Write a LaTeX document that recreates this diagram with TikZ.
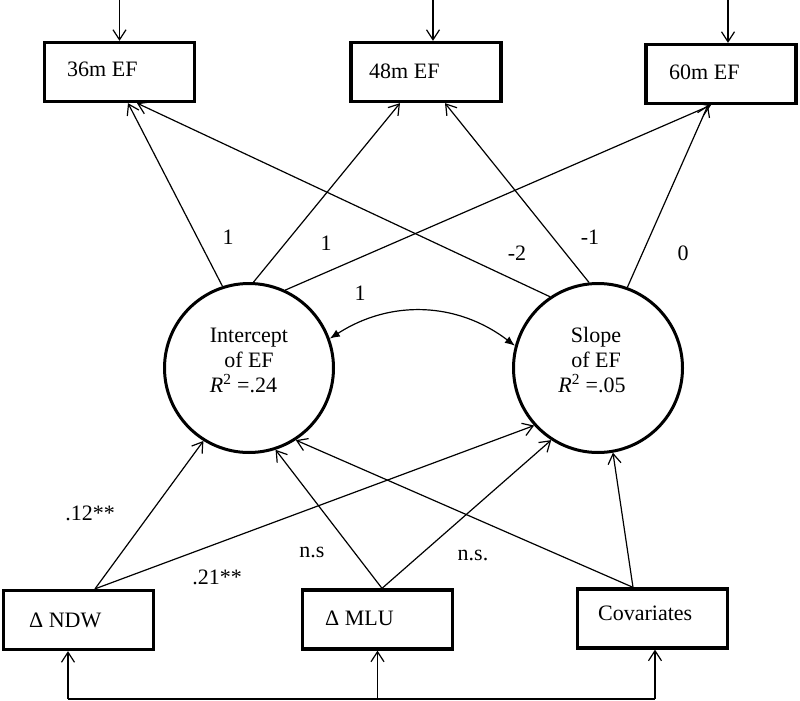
\documentclass[tikz,border=0pt]{standalone}
\usepackage{fontspec}
\setmainfont{Liberation Serif}
\usetikzlibrary{arrows.meta}
\begin{document}
\begin{tikzpicture}[x=1pt,y=-1pt,
  box/.style={draw, line width=3.3pt, minimum width=150pt, minimum height=59pt, inner sep=0pt},
  lat/.style={draw, circle, line width=3pt, minimum size=169pt, inner sep=0pt},
  ctxt/.style={align=center, inner sep=0pt, font=\fontsize{22}{25}\selectfont},
  txt/.style={font=\fontsize{22}{26}\selectfont, inner sep=0pt},
  con/.style={line width=1.2pt, -{Straight Barb[length=10pt,width=13pt]}},
  plain/.style={line width=1.2pt},
  cov/.style={line width=1.2pt, {Latex[length=10pt,width=8pt]}-{Latex[length=10pt,width=8pt]}}
]
\useasboundingbox (0,0) rectangle (800,701);
% top boxes
\node[box] (b36) at (119.5,72) {};
\node[box] (b48) at (426,72) {};
\node[box] (b60) at (721,74) {};
\node[txt, anchor=base west] (t36) at (67,77) {36m EF};
\node[txt, anchor=base west] (t48) at (369,78) {48m EF};
\node[txt, anchor=base west] (t60) at (669,79) {60m EF};
% bottom boxes
\node[box] (bNDW) at (78.5,620) {};
\node[box] (bMLU) at (377.5,619.5) {};
\node[box] (bCov) at (652.5,618.5) {};
\node[txt, anchor=base west] (tNDW) at (29,627) {Δ NDW};
\node[txt, anchor=base west] (tMLU) at (325,625) {Δ MLU};
\node[txt, anchor=base west] (tCov) at (598,620) {Covariates};
% latent circles
\node[lat] (I) at (249,368) {};
\node[lat] (S) at (598,368) {};
\node[ctxt] (It) at (249,360) {Intercept\\of EF\\\textit{R}\textsuperscript{2} =.24\hspace*{11pt}};
\node[ctxt] (St) at (596,360) {Slope\\of EF\\\textit{R}\textsuperscript{2} =.05\hspace*{8pt}};
% error arrows on top
\coordinate (e36) at (119.5,0);
\coordinate (e48) at (433,0);
\coordinate (e60) at (728,0);
\draw[con] (e36) -- (b36.north);
\draw[con] (e48) -- ([xshift=7pt]b48.north);
\draw[con] (e60) -- ([xshift=7pt]b60.north);
% loadings
\draw[con] (I.108) -- ([xshift=8.5pt]b36.south);
\draw[con] (I.87) -- ([xshift=-26pt]b48.south);
\draw[con] (I.65) -- ([xshift=-10pt]b60.south);
\draw[con] (S.124) -- ([xshift=17.5pt]b36.south);
\draw[con] (S.96) -- ([xshift=19pt]b48.south);
\draw[con] (S.70) -- ([xshift=-13pt]b60.south);
% covariance
\draw[cov] (I.20) to[bend left=35] (S.165);
% predictors
\draw[con] ([xshift=16.5pt]bNDW.north) -- (I.238);
\draw[con] ([xshift=16.5pt]bNDW.north) -- (S.222);
\draw[con] ([xshift=4.5pt]bMLU.north) -- (I.288);
\draw[con] ([xshift=4.5pt]bMLU.north) -- (S.237);
\draw[con] ([xshift=-19.5pt]bCov.north) -- (I.303);
\draw[con] ([xshift=-19.5pt]bCov.north) -- (S.280);
% bottom correlation bar
\coordinate (h1) at (68,699);
\coordinate (h2) at (377.5,699);
\coordinate (h3) at (655,699);
\draw[plain] (h1) -- (h3);
\draw[con] (h1) -- ([xshift=-10.5pt]bNDW.south);
\draw[con] (h2) -- (bMLU.south);
\draw[con] (h3) -- ([xshift=2.5pt]bCov.south);
% labels
\node[txt] (l1) at (228,237) {1};
\node[txt] (l2) at (326,243) {1};
\node[txt] (l3) at (517,253) {-2};
\node[txt] (l4) at (590,237) {-1};
\node[txt] (l5) at (683,253) {0};
\node[txt] (l6) at (360,293) {1};
\node[txt] (l7) at (90,513) {.12**};
\node[txt] (l8) at (217,577) {.21**};
\node[txt] (l9) at (312,552) {n.s};
\node[txt] (l10) at (473,555) {n.s.};
\end{tikzpicture}
\end{document}
